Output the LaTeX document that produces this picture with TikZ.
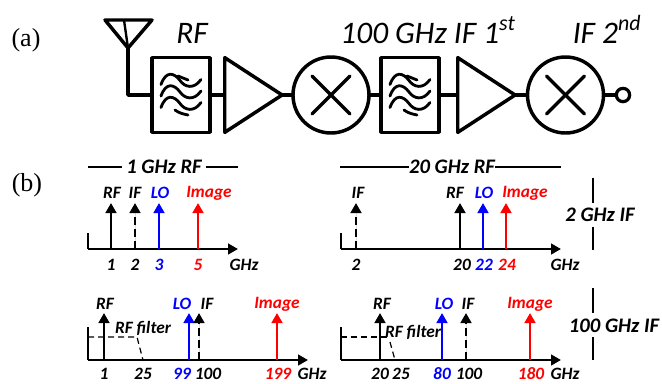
\documentclass[tikz,border=0pt]{standalone}
\usepackage{fontspec}
\setmainfont{Liberation Serif}
\newfontfamily\calfont{Carlito}
\usetikzlibrary{arrows.meta,shapes.geometric}
\tikzset{
  x=0.75pt,y=-0.75pt,
  block/.style={line width=2.6pt,line join=round,line cap=round},
  wire/.style={line width=2.6pt},
  filterbox/.style={draw,block,rectangle,minimum width=43.5pt,minimum height=56pt,inner sep=0pt,outer sep=0pt},
  amp/.style={draw,block,isosceles triangle,isosceles triangle stretches,shape border rotate=0,minimum width=56pt,minimum height=43pt,inner sep=0pt,outer sep=0pt},
  mixer/.style={draw,block,circle,minimum size=57pt,inner sep=0pt,outer sep=0pt},
  port/.style={draw,line width=2.4pt,circle,minimum size=10pt,inner sep=0pt,outer sep=0pt},
  head/.style={font=\calfont\itshape\fontsize{23.5pt}{26pt}\selectfont,inner sep=0pt,anchor=base},
  tag/.style={font=\fontsize{19.5pt}{21pt}\selectfont,inner sep=0pt},
  title/.style={font=\calfont\bfseries\itshape\fontsize{15.5pt}{17pt}\selectfont,inner sep=0pt},
  lab/.style={font=\calfont\bfseries\itshape\fontsize{13pt}{15pt}\selectfont,inner sep=0pt},
  rule/.style={line width=1.5pt},
  axis/.style={line width=1.8pt,-{Triangle[length=7.5pt,width=8pt]}},
  tone/.style={line width=1.8pt,-{Triangle[length=7.5pt,width=8pt]}},
  dtone/.style={tone,dash pattern=on 6pt off 3pt},
  mask/.style={line width=0.9pt,dash pattern=on 4.5pt off 3pt},
  pics/waves/.style={code={
    \foreach \dy in {-11.5,0,11.5}{
      \draw[line width=2.1pt,line cap=round] (-20,\dy+1) .. controls (-15,\dy-13) and (-7,\dy-11) .. (-1,\dy-3)
        .. controls (4,\dy+4) and (13,\dy+6) .. (20,\dy-4);
    }
    \draw[line width=2.1pt,line cap=round] (-3,-19) -- (7,-15);
    \draw[line width=2.1pt,line cap=round] (-6,15) .. controls (-2,18) and (2,19) .. (7,20);
  }}
}
\newcommand{\spur}[5]{%
  \coordinate (#1b) at (#4,\ybase);
  \coordinate (#1t) at (#4,#5);
  \draw[#2,draw=#3,fill=#3,#3] (#1b) -- (#1t);
}
\begin{document}
\begin{tikzpicture}
\useasboundingbox (0,0) rectangle (662,383);
% (a) chain
\node[tag] (taga) at (26,40) {(a)};
\node[filterbox] (f1) at (181,95) {};
\node[amp] (a1) at (245,95) {};
\node[mixer] (m1) at (331,95) {};
\node[filterbox] (f2) at (410,95) {};
\node[amp] (a2) at (478,95) {};
\node[mixer] (m2) at (565.5,95) {};
\node[port] (out) at (623,95) {};
\pic at (f1) {waves};
\pic at (f2) {waves};
\foreach \m in {m1,m2}{
  \draw[block] (\m.center) ++(-19,-19) -- ++(38,38);
  \draw[block] (\m.center) ++(19,-19) -- ++(-38,38);
}
\coordinate (antL) at (105,20);
\coordinate (antR) at (152,20);
\coordinate (antB) at (128,48);
\coordinate (antM) at (124,20);
\draw[block] (antL) -- (antR) -- (antB) -- cycle;
\draw[line width=1.8pt] (antM) -- (antB);
\draw[wire,line join=round] (antB) |- (f1.west);
\draw[wire] (f1.east) -- (a1.lower side);
\draw[wire] (a1.apex) -- (m1.west);
\draw[wire] (m1.east) -- (f2.west);
\draw[wire] (f2.east) -- (a2.lower side);
\draw[wire] (a2.apex) -- (m2.west);
\draw[wire] (m2.east) -- (out.west);
\node[head] (h1) at (192,43) {RF};
\node[head] (h2) at (428,43) {100 GHz IF 1\textsuperscript{st}};
\node[head] (h3) at (607,43) {IF 2\textsuperscript{nd}};
% (b)
\node[tag] (tagb) at (27,185) {(b)};
% panel 1
\node[title] (t1) at (164,167) {1 GHz RF};
\coordinate (t1l) at (88,167); \coordinate (t1r) at (238,167);
\draw[rule] (t1l) -- ([xshift=-3pt]t1.west);
\draw[rule] ([xshift=3pt]t1.east) -- (t1r);
\coordinate (o1) at (88,249); \coordinate (o1t) at (88,233); \coordinate (o1e) at (238,249);
\draw[line width=1.8pt] (o1t) -- (o1);
\draw[axis] (o1) -- (o1e);
\def\ybase{249}
\spur{p1a}{tone}{black}{111}{203}
\spur{p1b}{dtone}{black}{135}{203}
\spur{p1c}{tone}{blue}{159}{203}
\spur{p1d}{tone}{red}{198}{203}
\node[lab] (l1a) at (112,193) {RF};
\node[lab] (l1b) at (135,193) {IF};
\node[lab,blue] (l1c) at (160,193) {LO};
\node[lab,red] (l1d) at (209,193) {Image};
\node[lab] (n1a) at (111,265) {1};
\node[lab] (n1b) at (135,265) {2};
\node[lab,blue] (n1c) at (159,265) {3};
\node[lab,red] (n1d) at (198,265) {5};
\node[lab] (n1e) at (244,265) {GHz};
% panel 2
\node[title] (t2) at (452,167) {20 GHz RF};
\coordinate (t2l) at (340,167); \coordinate (t2r) at (561,167);
\draw[rule] (t2l) -- (t2.west);
\draw[rule] (t2.east) -- (t2r);
\coordinate (o2) at (341,249); \coordinate (o2t) at (341,233); \coordinate (o2e) at (561,249);
\draw[line width=1.8pt] (o2t) -- (o2);
\draw[axis] (o2) -- (o2e);
\spur{p2a}{dtone}{black}{356}{203}
\spur{p2b}{tone}{black}{460}{203}
\spur{p2c}{tone}{blue}{483}{203}
\spur{p2d}{tone}{red}{506}{203}
\node[lab] (l2a) at (358,193) {IF};
\node[lab] (l2b) at (455,193) {RF};
\node[lab,blue] (l2c) at (484,193) {LO};
\node[lab,red] (l2d) at (525,193) {Image};
\node[lab] (n2a) at (356,265) {2};
\node[lab] (n2b) at (462,265) {20};
\node[lab,blue] (n2c) at (484,265) {22};
\node[lab,red] (n2d) at (507,265) {24};
\node[lab] (n2e) at (565,265) {GHz};
\node[title] (s1) at (600,215) {2 GHz IF};
\coordinate (s1a) at (593,178); \coordinate (s1b) at (593,203);
\coordinate (s1c) at (593,227); \coordinate (s1d) at (593,250);
\draw[rule] (s1a) -- (s1b);
\draw[rule] (s1c) -- (s1d);
% panel 3
\coordinate (o3) at (88,360); \coordinate (o3t) at (88,327); \coordinate (o3e) at (308,360);
\draw[line width=1.8pt] (o3t) -- (o3);
\draw[axis] (o3) -- (o3e);
\def\ybase{360}
\spur{p3a}{tone}{black}{104}{313}
\spur{p3b}{tone}{blue}{189}{313}
\spur{p3c}{dtone}{black}{199}{313}
\spur{p3d}{tone}{red}{277}{313}
\node[lab] (l3a) at (105,304) {RF};
\node[lab,blue] (l3b) at (182,304) {LO};
\node[lab] (l3c) at (207,304) {IF};
\node[lab,red] (l3d) at (277,304) {Image};
\node[lab] (rf3) at (143,328) {RF filter};
\coordinate (d3a) at (88,337); \coordinate (d3b) at (137,337); \coordinate (d3c) at (143,360);
\draw[mask] (d3a) -- (d3b) -- (d3c);
\node[lab] (n3a) at (104,374) {1};
\node[lab] (n3b) at (143,374) {25};
\node[lab,blue] (n3c) at (182,374) {99};
\node[lab] (n3d) at (208,374) {100};
\node[lab,red] (n3e) at (278,374) {199};
\node[lab] (n3f) at (312,374) {GHz};
% panel 4
\coordinate (o4) at (341,360); \coordinate (o4t) at (341,327); \coordinate (o4e) at (561,360);
\draw[line width=1.8pt] (o4t) -- (o4);
\draw[axis] (o4) -- (o4e);
\spur{p4a}{tone}{black}{380}{313}
\spur{p4b}{tone}{blue}{442}{313}
\spur{p4c}{dtone}{black}{466}{313}
\spur{p4d}{tone}{red}{530}{313}
\node[lab] (l4a) at (382,304) {RF};
\node[lab,blue] (l4b) at (444,304) {LO};
\node[lab] (l4c) at (468,304) {IF};
\node[lab,red] (l4d) at (530,304) {Image};
\node[lab] (rf4) at (413,332) {RF filter};
\coordinate (d4a) at (341,337); \coordinate (d4b) at (389,337);
\coordinate (d4c) at (390,342); \coordinate (d4d) at (395,360);
\draw[mask] (d4a) -- (d4b);
\draw[mask] (d4c) -- (d4d);
\node[lab] (n4a) at (380,374) {20};
\node[lab] (n4b) at (401,374) {25};
\node[lab,blue] (n4c) at (442,374) {80};
\node[lab] (n4d) at (469,374) {100};
\node[lab,red] (n4e) at (531,374) {180};
\node[lab] (n4f) at (565,374) {GHz};
\node[title] (s2) at (614,326) {100 GHz IF};
\coordinate (s2a) at (593,288); \coordinate (s2b) at (593,313);
\coordinate (s2c) at (593,337); \coordinate (s2d) at (593,360);
\draw[rule] (s2a) -- (s2b);
\draw[rule] (s2c) -- (s2d);
\end{tikzpicture}
\end{document}
